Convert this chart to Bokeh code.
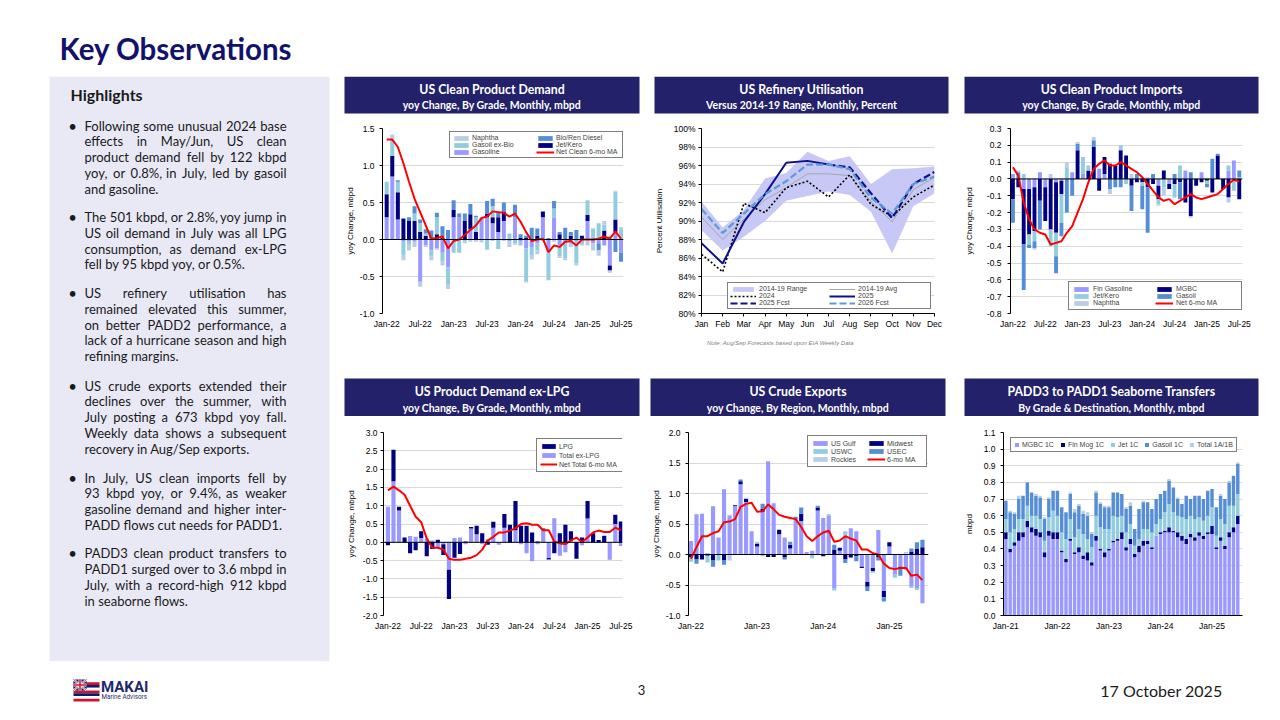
import numpy as np
from bokeh.plotting import figure
from bokeh.models import Range1d, FixedTicker, PrintfTickFormatter, Span, Legend, LegendItem
from bokeh.layouts import row, column
from bokeh.embed import file_html
from bokeh.resources import INLINE
from bokeh.core.properties import value

NAN = float("nan")

# ======================= DATA =======================
clean_ticks = ["Jan-22", "Jul-22", "Jan-23", "Jul-23", "Jan-24", "Jul-24", "Jan-25", "Jul-25"]
crude_ticks = ["Jan-22", "Jan-23", "Jan-24", "Jan-25"]
transfer_ticks = ["Jan-21", "Jan-22", "Jan-23", "Jan-24", "Jan-25"]
ref_months = ["Jan", "Feb", "Mar", "Apr", "May", "Jun", "Jul", "Aug", "Sep", "Oct", "Nov", "Dec"]

# US Clean Product Demand, yoy mbpd, Jan-22 .. Jul-25
dem_gasoline = [0.30, 0.85, 0.27, -0.03, -0.02, -0.03,
                -0.57, -0.08, -0.15, -0.12, -0.18, -0.38,
                0.30, 0.30, 0.00, 0.14, 0.00, 0.28,
                0.30, 0.22, 0.10, 0.25, -0.02, 0.30,
                -0.03, -0.12, -0.10, -0.05, 0.30, -0.17,
                0.30, -0.08, -0.05, -0.04, -0.02, -0.03,
                0.25, -0.05, -0.05, -0.08, -0.35, 0.10,
                -0.18]
dem_jet = [0.31, 0.28, 0.37, 0.28, 0.25, 0.25,
           0.10, 0.05, 0.00, 0.07, 0.02, 0.00,
           0.10, 0.00, 0.25, 0.20, 0.10, 0.00,
           0.05, 0.08, 0.20, 0.13, 0.00, 0.00,
           0.02, 0.02, 0.00, 0.05, 0.08, 0.00,
           0.00, 0.07, 0.00, 0.05, 0.00, 0.05,
           0.08, 0.00, 0.00, 0.12, -0.07, 0.17,
           0.00]
dem_gasoil = [0.17, 0.22, 0.14, -0.19, -0.05, 0.10,
              0.12, 0.03, -0.08, 0.23, -0.12, -0.22,
              -0.18, -0.18, -0.03, 0.00, 0.20, 0.02,
              -0.14, 0.15, -0.13, 0.00, 0.08, -0.05,
              -0.05, -0.45, -0.12, -0.10, 0.00, -0.38,
              0.12, -0.15, -0.20, -0.03, -0.30, -0.03,
              0.20, 0.15, 0.22, 0.08, 0.05, 0.38,
              0.13]
dem_bio = [0.00, 0.00, 0.02, 0.01, 0.05, 0.10,
           0.05, 0.06, 0.12, 0.06, 0.16, 0.13,
           0.13, 0.05, 0.10, 0.14, 0.02, 0.00,
           0.17, 0.10, 0.07, 0.12, 0.00, 0.17,
           0.05, 0.03, 0.16, 0.10, 0.00, 0.02,
           0.10, 0.03, 0.16, 0.05, 0.13, 0.00,
           0.00, 0.00, -0.10, 0.00, 0.00, -0.17,
           -0.12]
dem_naphtha = [0.00, 0.07, 0.00, -0.06, -0.08, -0.07,
               -0.07, -0.02, -0.05, -0.02, -0.05, -0.07,
               0.00, 0.00, -0.02, -0.03, -0.03, -0.04,
               0.00, -0.02, 0.00, -0.02, -0.08, -0.02,
               0.00, -0.01, -0.05, -0.05, -0.02, 0.00,
               -0.03, -0.02, -0.03, -0.03, -0.03, -0.02,
               -0.08, -0.10, -0.07, 0.05, -0.03, 0.01,
               0.04]
dem_ma = [1.35, 1.35, 1.25, 1.03, 0.78, 0.55,
          0.37, 0.19, 0.01, 0.02, 0.04, -0.12,
          -0.02, 0.00, 0.06, 0.13, 0.19, 0.29,
          0.31, 0.38, 0.37, 0.36, 0.31, 0.35,
          0.24, 0.10, -0.02, 0.00, 0.01, -0.17,
          -0.08, -0.10, -0.03, -0.02, -0.08, 0.00,
          0.00, 0.00, 0.01, 0.04, 0.01, 0.11,
          0.01]

# US Refinery Utilisation, percent
ref_range_low = [89.0, 86.8, 88.3, 90.0, 92.2, 92.7, 93.2, 92.8, 91.0, 86.5, 91.6, 93.0]
ref_range_high = [92.1, 89.3, 91.2, 94.6, 95.2, 97.5, 96.5, 97.0, 94.0, 95.6, 95.7, 95.9]
ref_avg = [90.4, 88.0, 90.2, 92.3, 93.6, 95.1, 95.1, 94.9, 92.1, 89.9, 93.4, 94.7]
ref_2024 = [86.4, 84.5, 91.9, 90.9, 93.6, 94.3, 92.6, 95.0, 91.8, 90.5, 92.6, 93.9]
ref_2025 = [87.6, 85.4, 89.9, 92.9, 96.3, 96.5, 96.1, NAN, NAN, NAN, NAN, NAN]
ref_2025_fcst = [NAN, NAN, NAN, NAN, NAN, NAN, 96.1, 95.8, 93.0, 90.3, 94.0, 95.3]
ref_2026_fcst = [91.3, 88.7, 90.8, 92.9, 94.3, 96.1, 96.1, 95.6, 92.5, 90.8, 94.0, 94.8]

# US Clean Product Imports, yoy mbpd
imp_fin = [0.03, 0.00, -0.06, -0.06, -0.05, 0.04,
           -0.05, 0.00, -0.02, -0.01, 0.00, 0.04,
           0.00, 0.03, 0.00, 0.00, 0.06, 0.03,
           0.00, 0.00, 0.00, 0.00, 0.00, 0.00,
           0.00, 0.00, 0.00, -0.04, 0.00, -0.03,
           0.00, 0.00, 0.05, 0.00, 0.00, 0.04,
           0.00, 0.00, 0.00, 0.00, 0.05, 0.11,
           0.00]
imp_mgbc = [-0.12, -0.05, -0.33, -0.27, -0.26, -0.13,
            -0.20, -0.30, -0.30, -0.08, 0.00, 0.00,
            0.17, 0.00, 0.05, 0.19, -0.07, 0.10,
            0.09, 0.08, 0.17, 0.14, -0.04, -0.02,
            -0.02, -0.05, -0.03, -0.08, 0.05, -0.03,
            -0.03, -0.02, -0.14, -0.22, -0.04, -0.02,
            -0.01, -0.08, 0.14, -0.06, -0.11, 0.00,
            -0.12]
imp_jet = [0.00, 0.00, 0.03, -0.06, -0.06, 0.00,
           0.00, -0.10, -0.14, -0.17, 0.07, 0.00,
           0.00, 0.10, 0.03, 0.00, 0.00, 0.00,
           0.01, 0.00, 0.03, -0.03, 0.00, 0.00,
           -0.02, 0.00, 0.00, -0.03, -0.05, 0.00,
           -0.08, 0.08, 0.00, 0.00, 0.00, 0.00,
           -0.02, 0.00, 0.00, 0.00, 0.03, -0.07,
           0.01]
imp_gasoil = [-0.14, 0.04, -0.27, -0.02, -0.04, -0.17,
              0.00, 0.00, -0.10, -0.08, -0.20, -0.10,
              0.04, 0.00, 0.00, 0.04, 0.00, 0.00,
              -0.06, -0.05, -0.05, 0.00, -0.15, 0.03,
              -0.14, -0.27, 0.03, 0.00, 0.00, 0.00,
              0.03, -0.10, 0.00, 0.04, 0.00, 0.00,
              -0.02, 0.12, 0.01, 0.00, 0.00, 0.00,
              0.04]
imp_naphtha = [0.00, 0.01, 0.00, 0.00, -0.01, 0.00,
               0.00, 0.03, 0.00, 0.00, 0.03, 0.00,
               0.01, 0.00, 0.00, 0.02, 0.00, 0.00,
               -0.03, 0.00, 0.00, 0.00, 0.03, 0.00,
               0.01, 0.01, 0.00, -0.01, -0.05, 0.00,
               0.00, 0.00, 0.00, -0.01, 0.00, 0.00,
               0.00, 0.00, 0.00, 0.00, -0.03, 0.00,
               0.00]
imp_ma = [0.07, 0.02, -0.14, -0.24, -0.30, -0.32,
          -0.33, -0.39, -0.38, -0.37, -0.32, -0.28,
          -0.20, -0.12, -0.02, 0.06, 0.09, 0.11,
          0.08, 0.08, 0.10, 0.08, 0.06, 0.04,
          0.01, -0.03, -0.07, -0.11, -0.13, -0.12,
          -0.15, -0.13, -0.11, -0.09, -0.11, -0.12,
          -0.11, -0.10, -0.09, -0.06, -0.03, -0.005,
          -0.015]

# US Product Demand ex-LPG, yoy mbpd
pd_lpg = [-0.08, 0.86, 0.10, 0.13, -0.30, -0.22,
          0.18, -0.38, -0.18, 0.07, -0.30, -0.80,
          -0.42, -0.32, 0.02, 0.04, 0.23, 0.25,
          -0.07, 0.16, 0.00, 0.37, 0.48, 0.80,
          0.45, 0.45, 0.27, 0.02, 0.03, -0.04,
          -0.30, 0.25, 0.48, 0.25, -0.45, 0.13,
          0.48, 0.25, 0.06, 0.18, 0.00, 0.25,
          0.57]
pd_exlpg = [0.97, 1.67, 0.87, -0.02, 0.17, 0.15,
            0.12, 0.10, 0.05, -0.15, -0.05, -0.75,
            0.12, 0.13, -0.05, 0.38, 0.22, -0.05,
            0.08, 0.40, -0.07, 0.40, 0.00, 0.33,
            -0.05, -0.30, -0.52, -0.05, 0.35, -0.43,
            0.66, -0.37, -0.27, 0.05, 0.00, -0.08,
            0.65, 0.00, 0.00, 0.00, -0.48, 0.50,
            -0.10]
pd_ma = [1.42, 1.52, 1.42, 1.30, 1.00, 0.70,
         0.55, 0.10, -0.15, -0.15, -0.20, -0.45,
         -0.48, -0.48, -0.45, -0.42, -0.35, -0.20,
         0.05, 0.15, 0.27, 0.27, 0.32, 0.38,
         0.50, 0.52, 0.48, 0.48, 0.33, 0.33,
         0.02, -0.03, -0.05, 0.05, 0.13, 0.00,
         0.13, 0.27, 0.32, 0.28, 0.28, 0.40,
         0.33]

# US Crude Exports, yoy mbpd
cr_gulf = [0.22, 0.66, 0.67, 0.02, 0.79, 0.28,
           1.07, 0.64, 0.80, 1.15, 0.86, 0.38,
           0.13, 0.70, 1.53, 0.84, 0.33, 0.28,
           0.10, 0.58, 0.55, 0.04, 0.06, 0.72,
           0.60, 0.63, -0.55, 0.06, 0.30, 0.43,
           0.38, -0.20, -0.45, -0.22, 0.40, -0.60,
           0.13, -0.33, -0.20, -0.25, -0.53, -0.55,
           -0.80]
cr_midwest = [-0.05, -0.08, -0.08, -0.02, -0.10, 0.00,
              -0.10, 0.00, 0.01, 0.05, 0.05, 0.00,
              0.05, 0.05, -0.04, -0.04, 0.07, -0.05,
              0.06, 0.00, 0.12, 0.00, 0.00, 0.05,
              -0.03, 0.00, 0.08, 0.05, -0.08, -0.05,
              -0.03, -0.02, -0.08, -0.05, -0.05, -0.10,
              0.07, 0.00, -0.03, 0.00, 0.05, 0.10,
              0.12]
cr_uswc = [-0.07, 0.00, 0.00, -0.11, 0.00, -0.10,
           0.00, 0.01, 0.00, 0.00, 0.00, 0.00,
           0.00, -0.03, 0.00, 0.00, 0.02, 0.00,
           0.00, 0.00, 0.00, 0.00, -0.06, 0.00,
           0.00, 0.03, -0.04, 0.00, 0.08, 0.00,
           0.00, 0.00, 0.00, -0.03, 0.00, 0.00,
           0.00, -0.05, 0.00, 0.00, -0.02, -0.03,
           0.00]
cr_usec = [0.00, -0.07, 0.00, 0.00, -0.10, 0.00,
           -0.07, 0.00, 0.00, 0.03, 0.01, 0.00,
           0.00, 0.08, 0.00, 0.00, 0.00, -0.03,
           0.05, 0.04, 0.10, 0.00, 0.00, 0.03,
           0.00, 0.00, 0.08, 0.00, -0.06, 0.00,
           -0.08, 0.00, -0.07, 0.00, -0.05, -0.07,
           0.00, 0.00, -0.12, 0.00, 0.05, 0.10,
           0.12]
cr_rockies = [0.00, 0.00, 0.00, 0.00, 0.00, 0.00,
              0.00, -0.10, 0.00, 0.00, 0.01, 0.00,
              0.03, 0.00, 0.00, 0.00, 0.00, 0.00,
              0.00, 0.00, 0.00, 0.00, 0.00, 0.00,
              0.00, 0.00, 0.00, 0.00, 0.00, 0.00,
              0.00, 0.00, 0.00, 0.00, 0.00, 0.00,
              0.00, 0.00, 0.00, 0.04, 0.00, 0.00,
              0.00]
cr_ma = [-0.07, 0.12, 0.30, 0.30, 0.35, 0.38,
         0.53, 0.54, 0.58, 0.78, 0.83, 0.85,
         0.70, 0.71, 0.82, 0.74, 0.65, 0.62,
         0.60, 0.58, 0.45, 0.30, 0.22, 0.30,
         0.36, 0.39, 0.21, 0.23, 0.30, 0.26,
         0.23, 0.08, 0.08, 0.02, 0.00, -0.15,
         -0.22, -0.24, -0.22, -0.22, -0.35, -0.33,
         -0.42]

# PADD3 to PADD1 seaborne transfers, mbpd, Jan-21 .. Jul-25
tr_mgbc = [0.46, 0.38, 0.42, 0.45, 0.47, 0.53,
           0.50, 0.48, 0.47, 0.35, 0.48, 0.46,
           0.46, 0.38, 0.32, 0.45, 0.37, 0.38,
           0.34, 0.33, 0.30, 0.45, 0.39, 0.35,
           0.39, 0.44, 0.45, 0.46, 0.39, 0.43,
           0.35, 0.38, 0.42, 0.43, 0.40, 0.48,
           0.49, 0.50, 0.50, 0.50, 0.47, 0.45,
           0.43, 0.47, 0.45, 0.48, 0.46, 0.49,
           0.49, 0.40, 0.45, 0.40, 0.47, 0.50,
           0.55]
tr_finmog = [0.04, 0.02, 0.02, 0.05, 0.03, 0.04,
             0.03, 0.04, 0.03, 0.03, 0.03, 0.04,
             0.04, 0.01, 0.02, 0.01, 0.01, 0.03,
             0.02, 0.05, 0.02, 0.03, 0.01, 0.03,
             0.01, 0.01, 0.01, 0.04, 0.02, 0.03,
             0.02, 0.04, 0.03, 0.02, 0.01, 0.00,
             0.01, 0.01, 0.03, 0.01, 0.03, 0.03,
             0.03, 0.02, 0.02, 0.02, 0.02, 0.01,
             0.05, 0.01, 0.02, 0.02, 0.03, 0.03,
             0.05]
tr_jet = [0.08, 0.10, 0.08, 0.08, 0.08, 0.09,
          0.07, 0.08, 0.08, 0.07, 0.08, 0.13,
          0.10, 0.11, 0.12, 0.12, 0.09, 0.11,
          0.13, 0.08, 0.09, 0.12, 0.13, 0.14,
          0.12, 0.15, 0.13, 0.10, 0.09, 0.09,
          0.05, 0.04, 0.07, 0.07, 0.09, 0.07,
          0.08, 0.11, 0.14, 0.11, 0.10, 0.11,
          0.12, 0.11, 0.11, 0.09, 0.09, 0.10,
          0.11, 0.07, 0.11, 0.13, 0.16, 0.13,
          0.13]
tr_gasoil = [0.11, 0.12, 0.09, 0.12, 0.14, 0.14,
             0.14, 0.12, 0.13, 0.13, 0.11, 0.12,
             0.15, 0.15, 0.16, 0.15, 0.15, 0.14,
             0.12, 0.14, 0.08, 0.14, 0.14, 0.13,
             0.13, 0.14, 0.15, 0.13, 0.14, 0.11,
             0.10, 0.18, 0.16, 0.16, 0.14, 0.15,
             0.15, 0.13, 0.14, 0.15, 0.10, 0.08,
             0.14, 0.10, 0.14, 0.13, 0.13, 0.15,
             0.11, 0.17, 0.14, 0.15, 0.14, 0.18,
             0.18]
tr_total1ab = [0.00, 0.01, 0.01, 0.02, 0.00, 0.00,
               0.00, 0.01, 0.01, 0.01, 0.01, 0.00,
               0.00, 0.00, 0.00, 0.01, 0.02, 0.01,
               0.02, 0.02, 0.01, 0.01, 0.01, 0.01,
               0.01, 0.00, 0.00, 0.00, 0.01, 0.02,
               0.00, 0.00, 0.01, 0.00, 0.00, 0.00,
               0.00, 0.00, 0.01, 0.00, 0.01, 0.00,
               0.00, 0.00, 0.00, 0.00, 0.00, 0.00,
               0.00, 0.00, 0.01, 0.00, 0.01, 0.00,
               0.01]

highlights = [
    ["Following some unusual 2024 base", "effects in May/Jun, US clean",
     "product demand fell by 122 kbpd", "yoy, or 0.8%,  in July, led by gasoil", "and gasoline."],
    ["The 501 kbpd, or 2.8%, yoy jump in", "US oil demand in July was all LPG",
     "consumption, as demand ex-LPG", "fell by 95 kbpd yoy, or 0.5%."],
    ["US refinery utilisation has", "remained elevated this summer,",
     "on better PADD2 performance, a", "lack of a hurricane season and high", "refining margins."],
    ["US crude exports extended their", "declines over the summer, with",
     "July posting a 673 kbpd yoy fall.", "Weekly data shows a subsequent", "recovery in Aug/Sep exports."],
    ["In July, US clean imports fell by", "93 kbpd yoy, or 9.4%, as weaker",
     "gasoline demand and higher inter-", "PADD flows cut needs for PADD1."],
    ["PADD3 clean product transfers to", "PADD1 surged over to 3.6 mbpd in",
     "July, with a record-high 912 kbpd", "in seaborne flows."],
]

# ======================= STYLE =======================
HDR = "#23216A"
TITLE_C = "#13126B"
PANEL = "#E9E9F5"
LAV = "#9999FF"
NAVY = "#000080"
TEAL = "#93CDDD"
MBLUE = "#558ED5"
LIGHT = "#B9CDE5"
RED = "#FF0000"
CF = "Liberation Sans"


def canvas(w, h, x0, x1, y0, y1):
    p = figure(width=w, height=h, x_range=Range1d(x0, x1), y_range=Range1d(y1, y0),
               x_axis_type=None, y_axis_type=None, output_backend="svg",
               toolbar_location=None, min_border=0)
    p.outline_line_color = None
    p.background_fill_color = "white"
    p.border_fill_color = "white"
    return p


def put(p, x, y, s, size, color="#1A1A1A", font="Lato", style="normal", align="left", baseline="middle"):
    p.text(x=[x], y=[y], text=[s], text_font=value(font), text_font_size=value(size),
           text_font_style=style, text_color=color, text_align=align, text_baseline=baseline)


def stack_bars(p, series, colors, width):
    n = len(series[0])
    x = np.arange(n)
    pos = np.zeros(n)
    neg = np.zeros(n)
    out = []
    for s, c in zip(series, colors):
        s = np.asarray(s, dtype=float)
        bottom = np.where(s >= 0, pos, neg)
        top = bottom + s
        pos = np.where(s >= 0, top, pos)
        neg = np.where(s < 0, top, neg)
        out.append(p.vbar(x=x, bottom=bottom, top=top, width=width, fill_color=c, line_color=None))
    return out


def chart(w, h, bl, br, bt, bb, xr, yr, yticks, yfmt, ylabel, xticks, xlabels,
          lab_standoff, axlab_standoff, zero_line=True):
    p = figure(width=w, height=h, x_range=Range1d(*xr), y_range=Range1d(*yr), output_backend="svg",
               toolbar_location=None, min_border_left=bl, min_border_right=br,
               min_border_top=bt, min_border_bottom=bb)
    p.outline_line_color = None
    p.background_fill_color = "white"
    p.border_fill_color = "white"
    p.xgrid.grid_line_color = None
    p.ygrid.ticker = FixedTicker(ticks=yticks)
    p.ygrid.grid_line_color = "#D9D9D9"
    ya = p.yaxis[0]
    ya.ticker = FixedTicker(ticks=yticks)
    ya.formatter = PrintfTickFormatter(format=yfmt)
    ya.axis_label = ylabel
    ya.axis_label_text_font = CF
    ya.axis_label_text_font_size = "8px"
    ya.axis_label_text_font_style = "normal"
    ya.axis_label_text_color = "black"
    ya.axis_label_standoff = axlab_standoff
    ya.major_label_text_font = CF
    ya.major_label_text_font_size = "8.5px"
    ya.major_label_text_color = "black"
    ya.major_label_standoff = lab_standoff
    ya.axis_line_color = "black"
    ya.major_tick_line_color = "black"
    ya.major_tick_out = 3
    ya.major_tick_in = 0
    ya.minor_tick_line_color = None
    xa = p.xaxis[0]
    xa.ticker = FixedTicker(ticks=xticks)
    xa.major_label_overrides = {t: l for t, l in zip(xticks, xlabels)}
    xa.major_label_text_font = CF
    xa.major_label_text_font_size = "8.5px"
    xa.major_label_text_color = "black"
    xa.minor_tick_line_color = None
    xa.minor_tick_out = 0
    xa.minor_tick_in = 0
    if zero_line:
        xa.axis_line_color = None
        xa.major_tick_line_color = None
        xa.major_tick_out = 0
        xa.major_tick_in = 0
        xa.major_label_standoff = 5
        p.add_layout(Span(location=0, dimension="width", line_color="black", line_width=1))
    else:
        xa.axis_line_color = "black"
        xa.major_tick_line_color = "black"
        xa.major_tick_out = 3
        xa.major_tick_in = 0
        xa.major_label_standoff = 2
    return p


def legend(p, items, loc, orientation, ncols, label_width, glyph_w, glyph_h, padding, spacing, standoff,
           label_h=7, font_size="7px"):
    lg = Legend(items=[LegendItem(label=l, renderers=[r]) for l, r in items], location=loc,
                orientation=orientation, label_text_font=CF, label_text_font_size=font_size,
                label_standoff=standoff, label_width=label_width, label_height=label_h,
                glyph_width=glyph_w, glyph_height=glyph_h, padding=padding, spacing=spacing, margin=0,
                border_line_color="black", border_line_width=1, background_fill_color="white",
                background_fill_alpha=1.0)
    if ncols:
        lg.ncols = ncols
    p.add_layout(lg)
    return lg


# ======================= TOP TITLE =======================
top = canvas(1272, 76, 0, 1272, 0, 76)
put(top, 59, 48, "Key Observations", "29.5px", color=TITLE_C, style="bold", baseline="alphabetic")

# ======================= LEFT PANEL =======================
left = canvas(340, 585, 0, 340, 76, 661)
left.quad(left=[49], right=[329], top=[76], bottom=[661], fill_color=PANEL, line_color=None)
put(left, 70, 94, "Highlights", "16px", color="#1A1A1A", style="bold")

LATO_W = dict(zip("abcdefghijklmnopqrstuvwxyz",
                  [0.51, 0.56, 0.46, 0.56, 0.53, 0.33, 0.50, 0.56, 0.24, 0.24, 0.50, 0.24, 0.84,
                   0.56, 0.56, 0.55, 0.56, 0.37, 0.43, 0.35, 0.56, 0.50, 0.77, 0.49, 0.50, 0.45]))
LATO_W.update(dict(zip("ABCDEFGHIJKLMNOPQRSTUVWXYZ",
                       [0.68, 0.64, 0.67, 0.74, 0.56, 0.54, 0.71, 0.75, 0.28, 0.39, 0.66, 0.50, 0.90,
                        0.75, 0.78, 0.60, 0.78, 0.62, 0.52, 0.58, 0.72, 0.67, 1.00, 0.64, 0.62, 0.60])))
for d in "0123456789":
    LATO_W[d] = 0.58
LATO_W.update({".": 0.21, ",": 0.21, "%": 0.73, "/": 0.38, "-": 0.37})

FS = 13.0
TX0, TX1 = 84, 286
para_y0 = [125, 216.5, 292.5, 385, 477, 552.7]
LINE_H = 15.8
lx, ly, lt = [], [], []
rx, ry, rt = [], [], []
for para, y0 in zip(highlights, para_y0):
    put(left, 72, y0, "\u2022", "15px", color="#1A1A1A", align="center")
    for k, line in enumerate(para):
        y = y0 + k * LINE_H
        words = line.split()
        if k == len(para) - 1 or len(words) < 2:
            lx.append(TX0); ly.append(y); lt.append(line)
            continue
        widths = [sum(LATO_W.get(c, 0.5) for c in w) * FS for w in words]
        gap = (TX1 - TX0 - sum(widths)) / (len(words) - 1)
        xcur = TX0
        for w, wd in zip(words[:-1], widths[:-1]):
            lx.append(xcur); ly.append(y); lt.append(w)
            xcur += wd + gap
        rx.append(TX1); ry.append(y); rt.append(words[-1])
left.text(x=lx, y=ly, text=lt, text_font=value("Lato"), text_font_size=value("13px"),
          text_color="#1A1A1A", text_align="left", text_baseline="middle")
left.text(x=rx, y=ry, text=rt, text_font=value("Lato"), text_font_size=value("13px"),
          text_color="#1A1A1A", text_align="right", text_baseline="middle")

# ======================= HEADER ROWS =======================
hdr1 = canvas(932, 41, 340, 1272, 76, 117)
hdr1_spans = [(344, 639), (654, 948), (964, 1258)]
hdr1_titles = [("US Clean Product Demand", "yoy Change, By Grade, Monthly, mbpd"),
               ("US Refinery Utilisation", "Versus 2014-19 Range, Monthly, Percent"),
               ("US Clean Product Imports", "yoy Change, By Grade, Monthly, mbpd")]
hdr1.quad(left=[a for a, b in hdr1_spans], right=[b for a, b in hdr1_spans],
          top=[76] * 3, bottom=[113] * 3, fill_color=HDR, line_color=None)
for (a, b), (t, s) in zip(hdr1_spans, hdr1_titles):
    put(hdr1, (a + b) / 2, 88.5, t, "12.3px", color="white", style="bold", align="center")
    put(hdr1, (a + b) / 2, 104.5, s, "10.5px", color="white", style="bold", align="center")

hdr2 = canvas(932, 81, 340, 1272, 335, 416)
put(hdr2, 780, 342, "Note: Aug/Sep Forecasts based upon EIA Weekly Data", "6px", color="#7F7F7F",
    font=CF, style="italic", align="center")
hdr2_spans = [(344, 639), (650, 945), (964, 1258)]
hdr2_titles = [("US Product Demand ex-LPG", "yoy Change, By Grade, Monthly, mbpd"),
               ("US Crude Exports", "yoy Change, By Region, Monthly, mbpd"),
               ("PADD3 to PADD1 Seaborne Transfers", "By Grade & Destination, Monthly, mbpd")]
hdr2.quad(left=[a for a, b in hdr2_spans], right=[b for a, b in hdr2_spans],
          top=[378] * 3, bottom=[416] * 3, fill_color=HDR, line_color=None)
for (a, b), (t, s) in zip(hdr2_spans, hdr2_titles):
    put(hdr2, (a + b) / 2, 390.5, t, "12.3px", color="white", style="bold", align="center")
    put(hdr2, (a + b) / 2, 407, s, "10.5px", color="white", style="bold", align="center")

# ======================= CHART 1: Clean product demand =======================
n1 = len(dem_ma)
t6 = [6 * i for i in range(len(clean_ticks))]
c1 = chart(308, 218, 42, 25, 11, 22, (-0.75, n1 - 1 + 0.45), (-1.0, 1.5),
           [k / 2 for k in range(-2, 4)], "%.1f", "yoy Change, mbpd", t6, clean_ticks, 5, 2)
r1 = stack_bars(c1, [dem_gasoline, dem_jet, dem_gasoil, dem_bio, dem_naphtha],
                [LAV, NAVY, TEAL, MBLUE, LIGHT], 0.72)
m1 = c1.line(np.arange(n1), dem_ma, line_color=RED, line_width=2)
legend(c1, [("Naphtha", r1[4]), ("Bio/Ren Diesel", r1[3]), ("Gasoil ex-Bio", r1[2]),
            ("Jet/Kero", r1[1]), ("Gasoline", r1[0]), ("Net Clean 6-mo MA", m1)],
       (67, 155), "horizontal", 2, 64, 18, 6, 2, 0, 2)

# ======================= CHART 2: Refinery utilisation =======================
xm = np.arange(len(ref_months))
c2 = chart(310, 218, 53, 24, 11, 22, (0, len(ref_months) - 1), (80, 100),
           list(range(80, 101, 2)), "%d%%", "Percent Utilisation", list(xm), ref_months, 3, 7,
           zero_line=False)
rb = c2.varea(x=xm, y1=ref_range_low, y2=ref_range_high, fill_color="#C8C8F6")
ra = c2.line(xm, ref_avg, line_color="#A6A6A6", line_width=1)
r24 = c2.line(xm, ref_2024, line_color="black", line_width=1.6, line_dash="2 2")
r25 = c2.line(xm, ref_2025, line_color="#10108C", line_width=2)
r25f = c2.line(xm, ref_2025_fcst, line_color="#10108C", line_width=2.2, line_dash="7 3")
r26f = c2.line(xm, ref_2026_fcst, line_color="#5B9BD5", line_width=2.2, line_dash="7 3")
legend(c2, [("2014-19 Range", rb), ("2014-19 Avg", ra), ("2024", r24), ("2025", r25),
            ("2025 Fcst", r25f), ("2026 Fcst", r26f)],
       (26, 4), "horizontal", 2, 70, 26, 6, 2, 0, 3)

# ======================= CHART 3: Clean product imports =======================
n3 = len(imp_ma)
c3 = chart(314, 218, 52, 30, 11, 22, (-0.45, n3 - 1 + 0.6), (-0.8, 0.3),
           [k / 10 for k in range(-8, 4)], "%.1f", "yoy Change, mbpd", t6, clean_ticks, 6, 10)
r3 = stack_bars(c3, [imp_fin, imp_mgbc, imp_jet, imp_gasoil, imp_naphtha],
                [LAV, NAVY, TEAL, MBLUE, LIGHT], 0.72)
m3 = c3.line(np.arange(n3), imp_ma, line_color=RED, line_width=2)
legend(c3, [("Fin Gasoline", r3[0]), ("MGBC", r3[1]), ("Jet/Kero", r3[2]), ("Gasoil", r3[3]),
            ("Naphtha", r3[4]), ("Net 6-mo MA", m3)],
       (58, 3), "horizontal", 2, 62, 18, 6, 3, 0, 3)

# ======================= CHART 4: Product demand ex-LPG =======================
n4 = len(pd_ma)
c4 = chart(308, 245, 43, 26, 16, 46, (-0.8, n4 - 1 + 0.3), (-2.0, 3.0),
           [k / 2 for k in range(-4, 7)], "%.1f", "yoy Change, mbpd", t6, clean_ticks, 3, 4)
r4 = stack_bars(c4, [pd_exlpg, pd_lpg], [LAV, NAVY], 0.75)
m4 = c4.line(np.arange(n4), pd_ma, line_color=RED, line_width=2)
legend(c4, [("LPG", r4[1]), ("Total ex-LPG", r4[0]), ("Net Total 6-mo MA", m4)],
       (153, 143), "vertical", None, 60, 17, 6, 3, 1, 2, label_h=8)

# ======================= CHART 5: Crude exports =======================
n5 = len(cr_ma)
t12 = [12 * i for i in range(len(crude_ticks))]
c5 = chart(310, 245, 40, 30, 16, 46, (-0.45, n5 - 1 + 1.1), (-1.0, 2.0),
           [k / 2 for k in range(-2, 5)], "%.1f", "yoy Change, mbpd", t12, crude_ticks, 5, 2)
r5 = stack_bars(c5, [cr_gulf, cr_midwest, cr_uswc, cr_usec, cr_rockies],
                [LAV, NAVY, TEAL, MBLUE, LIGHT], 0.75)
m5 = c5.line(np.arange(n5), cr_ma, line_color=RED, line_width=2)
legend(c5, [("US Gulf", r5[0]), ("Midwest", r5[1]), ("USWC", r5[2]), ("USEC", r5[3]),
            ("Rockies", r5[4]), ("6-mo MA", m5)],
       (119, 148), "horizontal", 2, 36, 18, 6, 3, 0, 2, label_h=8)

# ======================= CHART 6: PADD3 -> PADD1 transfers =======================
n6 = len(tr_mgbc)
t12b = [12 * i for i in range(len(transfer_ticks))]
c6 = chart(314, 245, 45, 30, 16, 46, (-0.55, n6 - 1 + 1.1), (0.0, 1.1),
           [k / 10 for k in range(0, 12)], "%.1f", "mbpd", t12b, transfer_ticks, 5, 7, zero_line=False)
c6.xaxis.major_tick_line_color = None
c6.xaxis.major_tick_out = 0
c6.xaxis.major_label_standoff = 5
r6 = stack_bars(c6, [tr_mgbc, tr_finmog, tr_jet, tr_gasoil, tr_total1ab],
                [LAV, NAVY, TEAL, MBLUE, LIGHT], 0.8)
legend(c6, [("MGBC 1C", r6[0]), ("Fin Mog 1C", r6[1]), ("Jet 1C", r6[2]), ("Gasoil 1C", r6[3]),
            ("Total 1A/1B", r6[4])],
       (7, 163), "horizontal", None, 20, 5, 5, 3, 6, 3, label_h=7)

# ======================= FOOTER =======================
foot = canvas(1272, 51, 0, 1272, 661, 712)
fx0, fx1, fy0, fy1 = 73, 99, 679, 701
sh = (fy1 - fy0) / 8
stripe_cols = ["white", "#D21034", "#012169", "white", "#D21034", "#012169", "white", "#D21034"]
foot.quad(left=[fx0] * 8, right=[fx1] * 8, top=[fy0 + k * sh for k in range(8)],
          bottom=[fy0 + (k + 1) * sh for k in range(8)], fill_color=stripe_cols, line_color=None)
cx1, cy1 = 86, 690
foot.quad(left=[fx0], right=[cx1], top=[fy0], bottom=[cy1], fill_color="#012169", line_color=None)
foot.segment(x0=[fx0, fx0], y0=[fy0, cy1], x1=[cx1, cx1], y1=[cy1, fy0], line_color="white", line_width=2.2)
foot.segment(x0=[fx0, fx0], y0=[fy0, cy1], x1=[cx1, cx1], y1=[cy1, fy0], line_color="#D21034", line_width=0.8)
foot.segment(x0=[(fx0 + cx1) / 2, fx0], y0=[fy0, (fy0 + cy1) / 2], x1=[(fx0 + cx1) / 2, cx1],
             y1=[cy1, (fy0 + cy1) / 2], line_color="white", line_width=3)
foot.segment(x0=[(fx0 + cx1) / 2, fx0], y0=[fy0, (fy0 + cy1) / 2], x1=[(fx0 + cx1) / 2, cx1],
             y1=[cy1, (fy0 + cy1) / 2], line_color="#D21034", line_width=1.5)
put(foot, 100.5, 686, "MAKAI", "15px", color="#1F2A6B", font="Roboto", style="bold")
put(foot, 101, 696.5, "Marine Advisors", "6.3px", color="#1F2A6B", font="Roboto")
put(foot, 641, 689, "3", "13px", color="#1A1A1A", align="center")
put(foot, 1222, 690, "17 October 2025", "16px", color="#1A1A1A", align="right")

# ======================= LAYOUT =======================
right = column(hdr1, row(c1, c2, c3), hdr2, row(c4, c5, c6))
page = column(top, row(left, right), foot)
open("out.html", "w").write(file_html(page, INLINE, "Key Observations"))
